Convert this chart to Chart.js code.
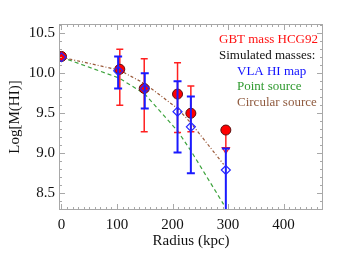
<!DOCTYPE html>
<html>
<head>
<meta charset="utf-8">
<script src="https://cdn.jsdelivr.net/npm/chart.js@4.4.7/dist/chart.umd.min.js"></script>
<style>
  html, body { margin: 0; padding: 0; background: #fff; }
  #wrap { width: 346px; height: 260px; }
</style>
</head>
<body>
<div id="wrap"><canvas id="c"></canvas></div>
<script>
// values
const gbtRadius = [0, 105, 149, 209, 233, 296];
const gbtMass = [10.21, 10.05, 9.81, 9.74, 9.50, 9.29];
const gbtErrLow = [null, 9.60, 9.27, 9.26, 9.27, null];
const gbtErrHigh = [null, 10.30, 10.18, 10.13, 9.84, null];
const gbtUpperLimit = [null, null, null, null, null, 9.00];

const vlaRadius = [0, 102, 150, 209, 233, 296];
const vlaMass = [10.20, 10.03, 9.81, 9.52, 9.33, 8.79];
const vlaErrLow = [null, 9.81, 9.56, 9.01, 8.75, 8.00];
const vlaErrHigh = [null, 10.21, 10.00, 9.90, 9.71, 9.06];

const modelRadius = [0, 104, 150, 209, 234, 292];
const pointSource = [10.20, 9.94, 9.74, 9.28, 9.02, 8.36];
const circularSource = [10.20, 10.04, 9.87, 9.56, 9.37, 8.86];

const xTickLabels = [0, 100, 200, 300, 400];
const yTickLabels = [8.5, 9.0, 9.5, 10.0, 10.5];

const legendLines = [
  { text: 'GBT mass HCG92', color: '#ff1010', x: 219 },
  { text: 'Simulated masses:', color: '#111111', x: 219 },
  { text: 'VLA HI map', color: '#1010ff', x: 237 },
  { text: 'Point source', color: '#2f9a2f', x: 237 },
  { text: 'Circular source', color: '#8f5a3e', x: 237 }
];

const serif = "'Liberation Serif', 'DejaVu Serif', serif";

function pts(xs, ys) {
  return xs.map((x, i) => ({ x: x, y: ys[i] }));
}

const errorBars = {
  id: 'errorBars',
  beforeDatasetDraw(chart, args) {
    const ctx = chart.ctx;
    const xs = chart.scales.x, ys = chart.scales.y;
    const area = chart.chartArea;
    let xArr, lo, hi, color, width, cap;
    if (args.index === 1) {
      xArr = gbtRadius; lo = gbtErrLow; hi = gbtErrHigh; color = '#ff2020'; width = 1.5; cap = 3.5;
    } else if (args.index === 2) {
      xArr = vlaRadius; lo = vlaErrLow; hi = vlaErrHigh; color = '#1a1aff'; width = 2; cap = 4;
    } else {
      return;
    }
    ctx.save();
    ctx.beginPath();
    ctx.rect(area.left, area.top, area.right - area.left, area.bottom - area.top);
    ctx.clip();
    ctx.strokeStyle = color;
    ctx.lineWidth = width;
    xArr.forEach((x, i) => {
      if (lo[i] == null) return;
      const px = xs.getPixelForValue(x);
      const pl = ys.getPixelForValue(lo[i]);
      const ph = ys.getPixelForValue(hi[i]);
      ctx.beginPath();
      ctx.moveTo(px, pl); ctx.lineTo(px, ph);
      ctx.moveTo(px - cap, ph); ctx.lineTo(px + cap, ph);
      ctx.moveTo(px - cap, pl); ctx.lineTo(px + cap, pl);
      ctx.stroke();
    });
    if (args.index === 1) {
      // upper limit arrow
      gbtUpperLimit.forEach((v, i) => {
        if (v == null) return;
        const px = xs.getPixelForValue(gbtRadius[i]);
        const p0 = ys.getPixelForValue(gbtMass[i]);
        const p1 = ys.getPixelForValue(v);
        ctx.beginPath();
        ctx.moveTo(px, p0); ctx.lineTo(px, p1);
        ctx.stroke();
        ctx.lineWidth = 1.3;
        ctx.beginPath();
        ctx.moveTo(px - 3.5, p1 - 5.5);
        ctx.lineTo(px + 3.5, p1 - 5.5);
        ctx.lineTo(px, p1);
        ctx.closePath();
        ctx.stroke();
      });
    }
    ctx.restore();
  }
};

const frame = {
  id: 'frame',
  afterDraw(chart) {
    const ctx = chart.ctx;
    const a = chart.chartArea;
    const xs = chart.scales.x, ys = chart.scales.y;
    ctx.save();
    ctx.strokeStyle = '#a8a8a8';
    ctx.lineWidth = 1;
    ctx.strokeRect(a.left + 0.5, a.top + 0.5, a.right - a.left - 1, a.bottom - a.top - 1);
    ctx.beginPath();
    for (let v = 0; v <= 470; v += 10) {
      const px = Math.round(xs.getPixelForValue(v)) + 0.5;
      const len = v % 100 === 0 ? 6 : 3;
      ctx.moveTo(px, a.bottom); ctx.lineTo(px, a.bottom - len);
      ctx.moveTo(px, a.top); ctx.lineTo(px, a.top + len);
    }
    for (let k = 83; k <= 106; k++) {
      const v = k / 10;
      const py = Math.round(ys.getPixelForValue(v)) + 0.5;
      const len = k % 5 === 0 ? 6 : 3;
      ctx.moveTo(a.left, py); ctx.lineTo(a.left + len, py);
      ctx.moveTo(a.right, py); ctx.lineTo(a.right - len, py);
    }
    ctx.stroke();

    // legend text
    ctx.font = '13px ' + serif;
    ctx.textBaseline = 'middle';
    ctx.textAlign = 'left';
    const rows = [40, 55.5, 71.5, 87, 102.5];
    legendLines.forEach((l, i) => {
      ctx.fillStyle = l.color;
      ctx.fillText(l.text, l.x, rows[i]);
    });
    ctx.restore();
  }
};

new Chart(document.getElementById('c'), {
  type: 'scatter',
  data: {
    datasets: [
      {
        label: 'Point source',
        type: 'line',
        data: pts(modelRadius, pointSource),
        showLine: true,
        borderColor: '#3da33d',
        borderWidth: 1.2,
        borderDash: [4, 3],
        pointRadius: 0,
        fill: false,
        order: 5
      },
      {
        label: 'GBT mass HCG92',
        data: pts(gbtRadius, gbtMass),
        pointStyle: 'circle',
        pointRadius: 5,
        backgroundColor: '#ff0000',
        borderColor: '#5a1010',
        borderWidth: 1,
        order: 3
      },
      {
        label: 'VLA HI map',
        data: pts(vlaRadius, vlaMass),
        pointStyle: 'rectRot',
        pointRadius: 4.5,
        backgroundColor: 'rgba(0,0,0,0)',
        borderColor: '#2424ff',
        borderWidth: 1.2,
        order: 1
      },
      {
        label: 'Circular source',
        type: 'line',
        data: pts(modelRadius, circularSource),
        showLine: true,
        borderColor: '#9a5a3a',
        borderWidth: 1.2,
        borderDash: [3, 2, 1, 2],
        pointRadius: 0,
        fill: false,
        order: 4
      }
    ]
  },
  options: {
    responsive: true,
    maintainAspectRatio: false,
    animation: false,
    layout: { padding: { top: 24, right: 23, left: 0, bottom: 0 } },
    plugins: { legend: { display: false }, tooltip: { enabled: false } },
    scales: {
      x: {
        type: 'linear',
        min: -4.5,
        max: 471,
        afterBuildTicks: s => { s.ticks = xTickLabels.map(v => ({ value: v })); },
        afterFit: s => { s.height = 50; },
        grid: { display: false, drawTicks: false },
        border: { display: false },
        ticks: { color: '#111', font: { family: serif, size: 15 }, padding: 6, maxRotation: 0 },
        title: { display: true, text: 'Radius (kpc)', color: '#111', font: { family: serif, size: 15 }, padding: { top: 0, bottom: 10 } }
      },
      y: {
        min: 8.29,
        max: 10.616,
        afterBuildTicks: s => { s.ticks = yTickLabels.map(v => ({ value: v })); },
        afterFit: s => { s.width = 59; },
        grid: { display: false, drawTicks: false },
        border: { display: false },
        ticks: { color: '#111', font: { family: serif, size: 15 }, padding: 4, callback: v => Number(v).toFixed(1) },
        title: { display: true, text: 'Log[M(HI)]', color: '#111', font: { family: serif, size: 15 }, padding: { top: 6, bottom: 0 } }
      }
    }
  },
  plugins: [errorBars, frame]
});
</script>
</body>
</html>
